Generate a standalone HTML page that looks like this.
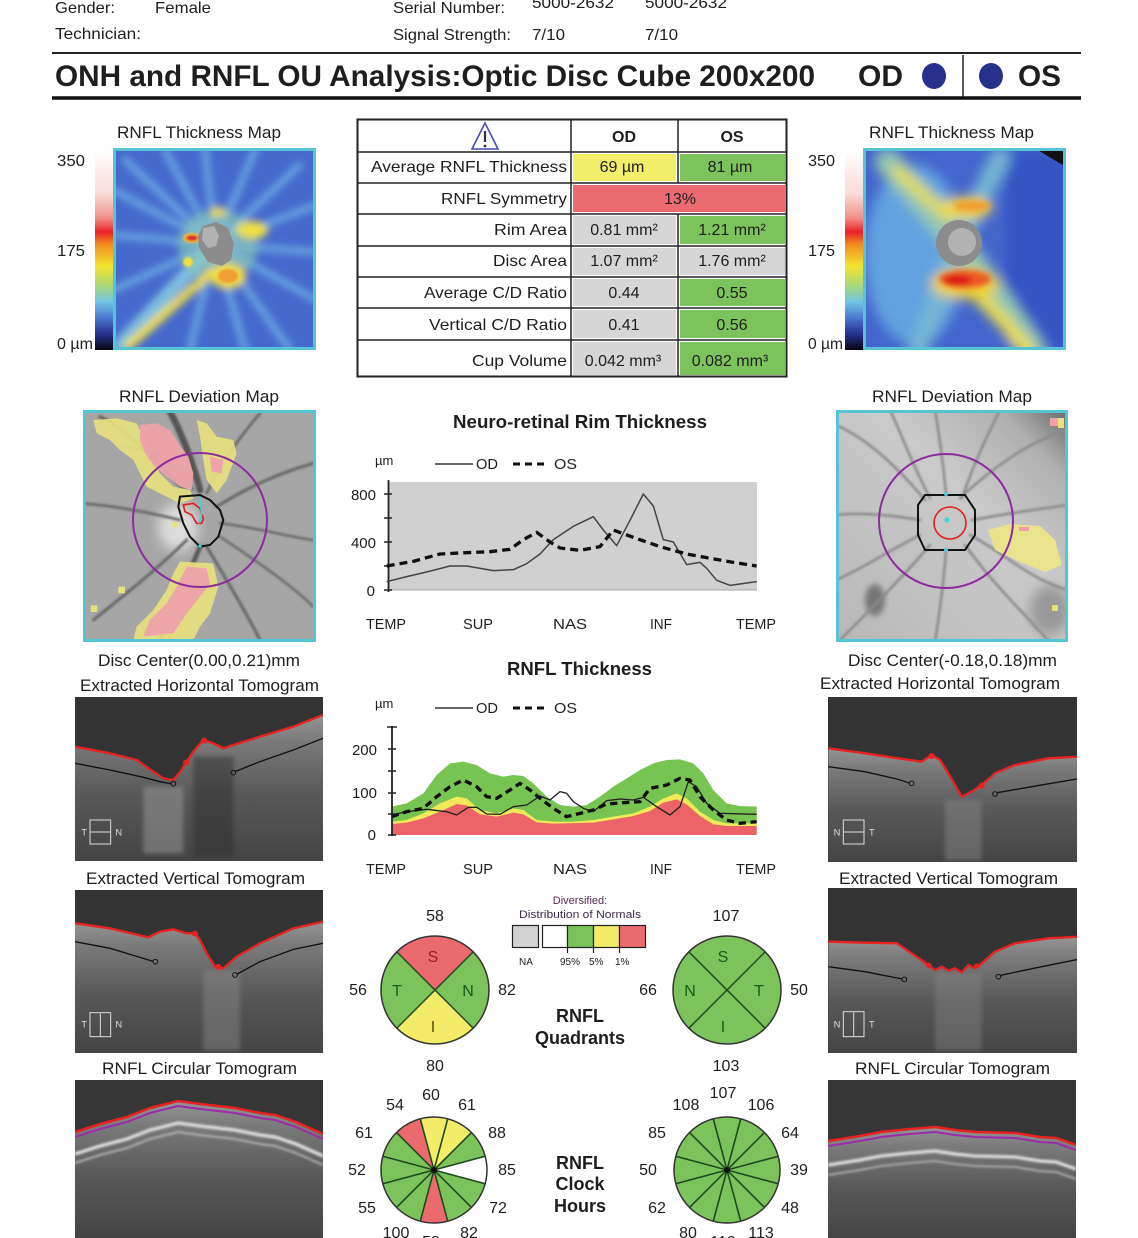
<!DOCTYPE html>
<html><head><meta charset="utf-8">
<style>
html,body{margin:0;padding:0;background:#fff;}
svg{display:block;}
text{font-family:"Liberation Sans",Arial,sans-serif;fill:#1e1e1e;}
.b{font-weight:bold;}
</style></head>
<body>
<svg width="1138" height="1238" viewBox="0 0 1138 1238" xmlns="http://www.w3.org/2000/svg">
<defs>
 <linearGradient id="cbar" x1="0" y1="0" x2="0" y2="1">
  <stop offset="0" stop-color="#ffffff"/>
  <stop offset="0.22" stop-color="#f8dcd6"/>
  <stop offset="0.34" stop-color="#f09088"/>
  <stop offset="0.41" stop-color="#e82028"/>
  <stop offset="0.47" stop-color="#f08a20"/>
  <stop offset="0.58" stop-color="#f4e430"/>
  <stop offset="0.68" stop-color="#a8d878"/>
  <stop offset="0.76" stop-color="#70c4e4"/>
  <stop offset="0.84" stop-color="#4a78d0"/>
  <stop offset="0.92" stop-color="#283090"/>
  <stop offset="1" stop-color="#050510"/>
 </linearGradient>
 <linearGradient id="tis" x1="0" y1="0" x2="0" y2="1">
  <stop offset="0" stop-color="#959595"/>
  <stop offset="0.18" stop-color="#7a7a7a"/>
  <stop offset="0.55" stop-color="#585858"/>
  <stop offset="1" stop-color="#444"/>
 </linearGradient>
 <linearGradient id="rdev" x1="0" y1="1" x2="1" y2="0">
  <stop offset="0" stop-color="#b8b8b8"/>
  <stop offset="0.6" stop-color="#cacaca"/>
  <stop offset="0.85" stop-color="#b0b0b0"/>
  <stop offset="1" stop-color="#6a6a6a"/>
 </linearGradient>
 <filter id="b6" x="-20%" y="-20%" width="140%" height="140%"><feGaussianBlur stdDeviation="6"/></filter>
 <filter id="b4" x="-20%" y="-20%" width="140%" height="140%"><feGaussianBlur stdDeviation="4"/></filter>
 <filter id="b3" x="-20%" y="-20%" width="140%" height="140%"><feGaussianBlur stdDeviation="3"/></filter>
 <filter id="b1" x="-20%" y="-20%" width="140%" height="140%"><feGaussianBlur stdDeviation="1"/></filter>
 <clipPath id="cTL"><rect x="113" y="148" width="203" height="202"/></clipPath>
 <clipPath id="cTR"><rect x="863" y="148" width="203" height="202"/></clipPath>
 <clipPath id="cDL"><rect x="83" y="410" width="233" height="232"/></clipPath>
 <clipPath id="cDR"><rect x="836" y="410" width="232" height="232"/></clipPath>
 <clipPath id="cLH"><rect x="75" y="697" width="248" height="164"/></clipPath>
 <clipPath id="cLV"><rect x="75" y="890" width="248" height="163"/></clipPath>
 <clipPath id="cLC"><rect x="75" y="1080" width="248" height="158"/></clipPath>
 <clipPath id="cRH"><rect x="828" y="697" width="249" height="165"/></clipPath>
 <clipPath id="cRV"><rect x="828" y="888" width="249" height="165"/></clipPath>
 <clipPath id="cRC"><rect x="828" y="1080" width="248" height="158"/></clipPath>
</defs>

<!-- ============ HEADER ============ -->
<g font-size="16">
 <text x="55" y="13" textLength="60" lengthAdjust="spacingAndGlyphs">Gender:</text>
 <text x="155" y="13" textLength="56" lengthAdjust="spacingAndGlyphs">Female</text>
 <text x="55" y="39" textLength="86" lengthAdjust="spacingAndGlyphs">Technician:</text>
 <text x="393" y="13" textLength="112" lengthAdjust="spacingAndGlyphs">Serial Number:</text>
 <text x="532" y="8" textLength="82" lengthAdjust="spacingAndGlyphs">5000-2632</text>
 <text x="645" y="8" textLength="82" lengthAdjust="spacingAndGlyphs">5000-2632</text>
 <text x="393" y="40" textLength="118" lengthAdjust="spacingAndGlyphs">Signal Strength:</text>
 <text x="532" y="40" textLength="33" lengthAdjust="spacingAndGlyphs">7/10</text>
 <text x="645" y="40" textLength="33" lengthAdjust="spacingAndGlyphs">7/10</text>
</g>
<line x1="52" y1="53" x2="1081" y2="53" stroke="#222" stroke-width="2"/>
<text class="b" x="55" y="86" font-size="30" textLength="760" lengthAdjust="spacingAndGlyphs" fill="#000">ONH and RNFL OU Analysis:Optic Disc Cube 200x200</text>
<text class="b" x="858" y="86" font-size="30" textLength="45" lengthAdjust="spacingAndGlyphs" fill="#000">OD</text>
<ellipse cx="934" cy="76" rx="12" ry="13" fill="#27318c"/>
<line x1="963" y1="55" x2="963" y2="97" stroke="#222" stroke-width="1.5"/>
<ellipse cx="991" cy="76" rx="12" ry="13" fill="#27318c"/>
<text class="b" x="1018" y="86" font-size="30" textLength="43" lengthAdjust="spacingAndGlyphs" fill="#000">OS</text>
<line x1="52" y1="98" x2="1081" y2="98" stroke="#111" stroke-width="3.5"/>

<!-- ============ THICKNESS MAPS ============ -->
<text x="117" y="138" font-size="17" textLength="164" lengthAdjust="spacingAndGlyphs">RNFL Thickness Map</text>
<text x="869" y="138" font-size="17" textLength="165" lengthAdjust="spacingAndGlyphs">RNFL Thickness Map</text>
<rect x="95" y="150" width="18" height="200" fill="url(#cbar)"/>
<rect x="845" y="150" width="18" height="200" fill="url(#cbar)"/>
<g font-size="16">
 <text x="57" y="166" textLength="28" lengthAdjust="spacingAndGlyphs">350</text>
 <text x="57" y="256" textLength="28" lengthAdjust="spacingAndGlyphs">175</text>
 <text x="57" y="349" textLength="36" lengthAdjust="spacingAndGlyphs">0 µm</text>
 <text x="808" y="166" textLength="27" lengthAdjust="spacingAndGlyphs">350</text>
 <text x="808" y="256" textLength="27" lengthAdjust="spacingAndGlyphs">175</text>
 <text x="808" y="349" textLength="35" lengthAdjust="spacingAndGlyphs">0 µm</text>
</g>

<!-- left thickness map -->
<g clip-path="url(#cTL)">
 <rect x="113" y="148" width="203" height="202" fill="#4669cd"/>
 <g filter="url(#b4)" stroke-linecap="round" fill="none">
  <g stroke="#6eaee2" stroke-width="6">
   <path d="M215,244 L125,160"/><path d="M215,244 L165,150"/><path d="M215,244 L205,148"/>
   <path d="M215,244 L255,150"/><path d="M215,244 L300,165"/><path d="M215,244 L316,205"/>
   <path d="M215,244 L316,252"/><path d="M215,244 L316,300"/><path d="M215,244 L290,350"/>
   <path d="M215,244 L245,350"/><path d="M215,244 L190,350"/><path d="M215,244 L113,290"/>
   <path d="M215,244 L113,235"/><path d="M215,244 L113,190"/>
  </g>
  <path d="M215,244 L120,345" stroke="#80c0e0" stroke-width="14"/>
  <ellipse cx="218" cy="246" rx="40" ry="36" fill="#8ccab8" stroke="none" opacity="0.6"/>
  <path d="M212,272 L182,298 L152,325 L128,346" stroke="#ecdc44" stroke-width="9"/>
  <ellipse cx="252" cy="230" rx="16" ry="9" fill="#f0e040" stroke="none"/>
  <ellipse cx="218" cy="212" rx="8" ry="5" fill="#f0e040" stroke="none"/>
  <ellipse cx="228" cy="276" rx="18" ry="13" fill="#f2dc3c" stroke="none"/>
 </g>
 <g filter="url(#b1)">
  <ellipse cx="228" cy="276" rx="10" ry="7" fill="#f0a030"/>
  <ellipse cx="192" cy="238" rx="9" ry="5" fill="#f0c030"/>
  <ellipse cx="192" cy="238" rx="6" ry="3" fill="#e02828"/>
  <circle cx="188" cy="262" r="5" fill="#f0e040"/>
 </g>
 <polygon points="203,226 216,222 228,228 234,244 231,260 222,266 208,262 199,248 198,236" fill="#8c8c8c"/>
 <polygon points="203,228 214,226 219,236 216,246 208,248 202,240" fill="#b2b2b2"/>
</g>
<rect x="114.5" y="149.5" width="200" height="199" fill="none" stroke="#55c5d6" stroke-width="3"/>

<!-- right thickness map -->
<g clip-path="url(#cTR)">
 <rect x="863" y="148" width="203" height="202" fill="#4466cc"/>
 <g filter="url(#b6)" stroke-linecap="round" fill="none">
  <rect x="1005" y="150" width="70" height="200" fill="#3654c4" stroke="none"/>
  <ellipse cx="915" cy="255" rx="50" ry="90" fill="#62a2e0" stroke="none"/>
  <path d="M888,162 L959,243 L1032,350" stroke="#94c8b0" stroke-width="26"/>
  <path d="M1000,158 L959,243 L918,350" stroke="#76b6d4" stroke-width="20"/>
  <path d="M898,172 L948,215" stroke="#e6de50" stroke-width="12"/>
  <path d="M968,285 L1000,318 L1028,350" stroke="#f0e040" stroke-width="13"/>
  <ellipse cx="966" cy="208" rx="26" ry="11" fill="#f0d840" stroke="none"/>
  <ellipse cx="965" cy="284" rx="34" ry="15" fill="#f0d030" stroke="none"/>
 </g>
 <g filter="url(#b3)">
  <ellipse cx="972" cy="206" rx="18" ry="6" fill="#f0a030"/>
  <ellipse cx="965" cy="279" rx="26" ry="9" fill="#ec5a22"/>
  <ellipse cx="958" cy="280" rx="14" ry="5" fill="#d81818"/>
 </g>
 <circle cx="959" cy="243" r="23" fill="#8c8c8c"/>
 <circle cx="962" cy="242" r="14" fill="#b2b2b2"/>
 <polygon points="1036,149 1066,149 1066,167" fill="#111"/>
</g>
<rect x="864.5" y="149.5" width="200" height="199" fill="none" stroke="#55c5d6" stroke-width="3"/>

<!-- ============ TABLE ============ -->
<g>
 <rect x="573" y="154" width="103" height="27" fill="#f3ee6a"/>
 <rect x="680" y="154" width="105" height="27" fill="#7dc35b"/>
 <rect x="573" y="185" width="212" height="27" fill="#ec6b70"/>
 <rect x="573" y="216" width="103" height="28" fill="#d6d6d6"/>
 <rect x="680" y="216" width="105" height="28" fill="#7dc35b"/>
 <rect x="573" y="248" width="103" height="27" fill="#d6d6d6"/>
 <rect x="680" y="248" width="105" height="27" fill="#d6d6d6"/>
 <rect x="573" y="279" width="103" height="27" fill="#d6d6d6"/>
 <rect x="680" y="279" width="105" height="27" fill="#7dc35b"/>
 <rect x="573" y="310" width="103" height="28" fill="#d6d6d6"/>
 <rect x="680" y="310" width="105" height="28" fill="#7dc35b"/>
 <rect x="573" y="342" width="103" height="33" fill="#d6d6d6"/>
 <rect x="680" y="342" width="105" height="33" fill="#7dc35b"/>
 <g stroke="#222" stroke-width="1.5">
  <rect x="357.5" y="119.5" width="429" height="257" fill="none" stroke-width="2"/>
  <line x1="571" y1="119" x2="571" y2="377"/>
  <line x1="678" y1="119" x2="678" y2="183"/>
  <line x1="678" y1="214" x2="678" y2="377"/>
  <line x1="357" y1="152" x2="787" y2="152"/>
  <line x1="357" y1="183" x2="787" y2="183"/>
  <line x1="357" y1="214" x2="787" y2="214"/>
  <line x1="357" y1="246" x2="787" y2="246"/>
  <line x1="357" y1="277" x2="787" y2="277"/>
  <line x1="357" y1="308" x2="787" y2="308"/>
  <line x1="357" y1="340" x2="787" y2="340"/>
 </g>
 <polygon points="485,123 472,149 498,149" fill="none" stroke="#4a4ab8" stroke-width="1.6"/>
 <line x1="485" y1="131" x2="485" y2="142" stroke="#333" stroke-width="2.2"/>
 <circle cx="485" cy="146" r="1.4" fill="#333"/>
 <text class="b" x="624" y="142" font-size="16" text-anchor="middle">OD</text>
 <text class="b" x="732" y="142" font-size="16" text-anchor="middle">OS</text>
 <g font-size="16" fill="#333" text-anchor="end">
  <text x="567" y="172" textLength="196" lengthAdjust="spacingAndGlyphs">Average RNFL Thickness</text>
  <text x="567" y="204" textLength="126" lengthAdjust="spacingAndGlyphs">RNFL Symmetry</text>
  <text x="567" y="235" textLength="73" lengthAdjust="spacingAndGlyphs">Rim Area</text>
  <text x="567" y="266" textLength="74" lengthAdjust="spacingAndGlyphs">Disc Area</text>
  <text x="567" y="298" textLength="143" lengthAdjust="spacingAndGlyphs">Average C/D Ratio</text>
  <text x="567" y="330" textLength="138" lengthAdjust="spacingAndGlyphs">Vertical C/D Ratio</text>
  <text x="567" y="366" textLength="95" lengthAdjust="spacingAndGlyphs">Cup Volume</text>
 </g>
 <g font-size="16" fill="#333" text-anchor="middle">
  <text x="622" y="172">69 µm</text><text x="730" y="172">81 µm</text>
  <text x="680" y="204">13%</text>
  <text x="624" y="235">0.81 mm²</text><text x="732" y="235">1.21 mm²</text>
  <text x="624" y="266">1.07 mm²</text><text x="732" y="266">1.76 mm²</text>
  <text x="624" y="298">0.44</text><text x="732" y="298">0.55</text>
  <text x="624" y="330">0.41</text><text x="732" y="330">0.56</text>
  <text x="623" y="366">0.042 mm³</text><text x="730" y="366">0.082 mm³</text>
 </g>
</g>

<!-- ============ DEVIATION MAPS ============ -->
<text x="119" y="402" font-size="17" textLength="160" lengthAdjust="spacingAndGlyphs">RNFL Deviation Map</text>
<text x="872" y="402" font-size="17" textLength="160" lengthAdjust="spacingAndGlyphs">RNFL Deviation Map</text>

<g clip-path="url(#cDL)">
 <rect x="83" y="410" width="233" height="232" fill="#a6a6a6"/>
 <ellipse cx="178" cy="527" rx="20" ry="24" fill="#dcdcdc" filter="url(#b6)"/>
 <g transform="translate(60,380) scale(0.33333)" fill="none" stroke="#666" stroke-linecap="round" filter="url(#b3)">
  <path d="M420,330 C400,250 360,150 330,95" stroke="#555" stroke-width="20"/>
  <path d="M380,340 C300,250 200,150 120,110" stroke-width="10"/>
  <path d="M470,380 C550,330 650,280 760,250" stroke-width="9"/>
  <path d="M480,430 C580,440 680,470 760,480" stroke-width="7"/>
  <path d="M420,500 C380,600 330,700 300,780" stroke="#5a5a5a" stroke-width="14"/>
  <path d="M440,500 C500,600 560,700 600,780" stroke-width="9"/>
  <path d="M360,420 C280,400 180,380 70,370" stroke-width="8"/>
  <path d="M380,480 C300,560 200,640 100,720" stroke-width="9"/>
  <path d="M440,340 C480,250 540,170 600,100" stroke-width="8"/>
  <path d="M480,470 C600,550 700,620 760,680" stroke-width="7"/>
  <path d="M400,330 C330,230 260,200 180,200" stroke-width="6"/>
 </g>
 <g transform="translate(60,380) scale(0.33333)">
  <polygon points="100,120 170,115 230,130 250,170 270,230 300,280 340,320 390,330 400,355 360,370 310,345 260,320 240,280 220,240 180,210 150,180 110,160" fill="#e6e07e" opacity="0.92"/>
  <polygon points="410,120 440,130 470,170 520,180 530,220 500,300 470,340 440,300 430,240 420,170" fill="#e6e07e" opacity="0.92"/>
  <polygon points="240,135 290,130 330,150 355,190 385,230 400,280 395,330 360,320 320,290 280,255 255,220 240,180" fill="#eea2aa" opacity="0.95"/>
  <polygon points="450,230 490,240 485,280 455,275" fill="#eea2aa"/>
  <polygon points="360,545 460,550 475,620 450,700 420,740 400,780 220,780 230,740 280,690 320,630 340,580" fill="#e6e07e" opacity="0.92"/>
  <polygon points="380,560 440,565 450,610 420,650 380,700 340,760 250,770 270,720 320,670 350,620" fill="#eea2aa" opacity="0.95"/>
  <rect x="175" y="620" width="20" height="20" fill="#e6e07e"/>
  <rect x="92" y="676" width="20" height="20" fill="#e6e07e"/>
  <rect x="336" y="426" width="16" height="16" fill="#e6e07e"/>
  <polygon points="360,350 420,345 450,360 480,390 490,420 475,470 450,495 420,500 390,470 370,430 355,380" fill="none" stroke="#111" stroke-width="6"/>
  <polygon points="370,375 400,370 420,385 430,415 425,430 410,430 395,405 375,395" fill="none" stroke="#e02020" stroke-width="5"/>
  <path d="M418,350 L425,400 L418,430" fill="none" stroke="#40d0e0" stroke-width="5"/>
  <circle cx="420" cy="498" r="5" fill="#40d0e0"/>
 </g>
 <circle cx="200" cy="520" r="67" fill="none" stroke="#8a2c9c" stroke-width="2"/>
</g>
<rect x="84.5" y="411.5" width="230" height="229" fill="none" stroke="#55c5d6" stroke-width="3"/>

<g clip-path="url(#cDR)">
 <rect x="836" y="410" width="232" height="232" fill="url(#rdev)"/>
 <ellipse cx="875" cy="600" rx="10" ry="16" fill="#777" filter="url(#b3)"/>
 <ellipse cx="1050" cy="610" rx="20" ry="25" fill="#999" filter="url(#b6)"/>
 <g fill="none" stroke="#8a8a8a" stroke-linecap="round" stroke-width="2.5" filter="url(#b1)">
  <path d="M946,495 C944,470 940,440 935,410"/>
  <path d="M925,500 C900,470 870,440 836,425"/>
  <path d="M960,498 C990,470 1030,440 1068,430"/>
  <path d="M920,520 C890,515 860,512 836,515"/>
  <path d="M972,520 C1000,515 1030,510 1068,505"/>
  <path d="M946,550 C944,580 940,610 935,642"/>
  <path d="M930,545 C900,580 870,610 840,640"/>
  <path d="M965,545 C990,580 1020,610 1050,642"/>
  <path d="M930,498 C910,460 900,430 890,410"/>
  <path d="M962,498 C975,460 990,430 1000,410"/>
  <path d="M920,535 C890,550 860,570 836,580"/>
  <path d="M970,535 C1000,550 1030,580 1068,590"/>
 </g>
 <polygon points="988,530 1010,524 1040,526 1055,540 1062,565 1045,572 1020,562 995,550" fill="#ece58a" opacity="0.95"/>
 <rect x="1019" y="527" width="10" height="4" fill="#f0a0a8"/>
 <rect x="1050" y="418" width="8" height="8" fill="#f0a0a8"/><rect x="1058" y="418" width="6" height="10" fill="#e8e07a"/>
 <rect x="1052" y="605" width="6" height="6" fill="#e8e07a"/>
 <circle cx="946" cy="521" r="67" fill="none" stroke="#8a2c9c" stroke-width="2"/>
 <path d="M925,495 L965,495 L975,510 L975,535 L965,550 L925,550 L918,535 L918,505 Z" fill="none" stroke="#111" stroke-width="2"/>
 <circle cx="950" cy="523" r="16" fill="none" stroke="#e02020" stroke-width="1.6"/>
 <circle cx="946" cy="494" r="2" fill="#40d0e0"/><circle cx="946" cy="550" r="2" fill="#40d0e0"/>
 <circle cx="947" cy="520" r="2.5" fill="#40d0e0"/>
</g>
<rect x="837.5" y="411.5" width="229" height="229" fill="none" stroke="#55c5d6" stroke-width="3"/>

<g font-size="17">
 <text x="98" y="666" textLength="202" lengthAdjust="spacingAndGlyphs">Disc Center(0.00,0.21)mm</text>
 <text x="80" y="691" textLength="239" lengthAdjust="spacingAndGlyphs">Extracted Horizontal Tomogram</text>
 <text x="848" y="666" textLength="209" lengthAdjust="spacingAndGlyphs">Disc Center(-0.18,0.18)mm</text>
 <text x="820" y="689" textLength="240" lengthAdjust="spacingAndGlyphs">Extracted Horizontal Tomogram</text>
 <text x="86" y="884" textLength="219" lengthAdjust="spacingAndGlyphs">Extracted Vertical Tomogram</text>
 <text x="839" y="884" textLength="219" lengthAdjust="spacingAndGlyphs">Extracted Vertical Tomogram</text>
 <text x="102" y="1074" textLength="195" lengthAdjust="spacingAndGlyphs">RNFL Circular Tomogram</text>
 <text x="855" y="1074" textLength="195" lengthAdjust="spacingAndGlyphs">RNFL Circular Tomogram</text>
</g>

<!-- ============ TOMOGRAMS ============ -->
<g clip-path="url(#cLH)">
 <rect x="75" y="697" width="248" height="164" fill="#333"/>
 <g transform="translate(60,690) scale(0.33333)">
  <polygon points="45,170 150,190 230,210 280,245 310,265 340,270 365,240 380,215 400,185 430,150 460,160 490,175 520,165 600,140 700,110 789,75 789,513 45,513" fill="url(#tis)"/>
  <rect x="250" y="290" width="120" height="200" fill="#9a9a9a" opacity="0.5" filter="url(#b6)"/>
  <rect x="400" y="200" width="120" height="300" fill="#2e2e2e" opacity="0.5" filter="url(#b6)"/>
  <polyline points="45,220 150,240 250,262 300,275 333,281" fill="none" stroke="#111" stroke-width="4"/>
  <circle cx="340" cy="281" r="7" fill="none" stroke="#111" stroke-width="3"/>
  <circle cx="520" cy="248" r="7" fill="none" stroke="#111" stroke-width="3"/>
  <polyline points="527,244 600,215 700,180 789,145" fill="none" stroke="#111" stroke-width="4"/>
  <polyline points="45,170 150,190 230,210 280,245 310,265 340,270 365,240 380,215 400,185 430,150 460,160 490,175 520,165 600,140 700,110 789,75" fill="none" stroke="#e82222" stroke-width="7" stroke-linejoin="round"/>
  <circle cx="378" cy="218" r="9" fill="#e82222"/><circle cx="432" cy="152" r="9" fill="#e82222"/>
  <rect x="90" y="390" width="62" height="72" fill="none" stroke="#ddd" stroke-width="3"/>
  <line x1="90" y1="426" x2="150" y2="426" stroke="#ddd" stroke-width="3"/>
  <text x="64" y="436" font-size="28" style="fill:#ddd">T</text><text x="166" y="436" font-size="28" style="fill:#ddd">N</text>
 </g>
</g>
<g clip-path="url(#cLV)">
 <rect x="75" y="890" width="248" height="163" fill="#333"/>
 <g transform="translate(60,690) scale(0.33333)">
  <polygon points="45,700 150,715 265,742 300,725 340,718 380,730 405,730 420,750 440,790 465,830 490,835 530,800 600,760 700,715 789,695 789,1095 45,1095" fill="url(#tis)"/>
  <rect x="430" y="840" width="110" height="240" fill="#8a8a8a" opacity="0.45" filter="url(#b6)"/>
  <polyline points="45,755 150,775 250,805 279,814" fill="none" stroke="#111" stroke-width="4"/>
  <circle cx="286" cy="815" r="7" fill="none" stroke="#111" stroke-width="3"/>
  <circle cx="525" cy="855" r="7" fill="none" stroke="#111" stroke-width="3"/>
  <polyline points="532,852 600,815 700,778 789,760" fill="none" stroke="#111" stroke-width="4"/>
  <polyline points="45,700 150,715 265,742 300,725 340,718 380,730 405,730 420,750 440,790 465,830 490,835 530,800 600,760 700,715 789,695" fill="none" stroke="#e82222" stroke-width="7" stroke-linejoin="round"/>
  <circle cx="405" cy="731" r="9" fill="#e82222"/><circle cx="475" cy="831" r="9" fill="#e82222"/>
  <rect x="90" y="968" width="62" height="72" fill="none" stroke="#ddd" stroke-width="3"/>
  <line x1="121" y1="970" x2="121" y2="1040" stroke="#ddd" stroke-width="3"/>
  <text x="64" y="1012" font-size="28" style="fill:#ddd">T</text><text x="166" y="1012" font-size="28" style="fill:#ddd">N</text>
 </g>
</g>
<g clip-path="url(#cLC)">
 <rect x="75" y="1080" width="248" height="158" fill="#363636"/>
 <polygon points="75,1132 100,1124 127,1117 150,1108 178,1101 200,1104 235,1108 260,1113 275,1115 296,1122 323,1134 323,1238 75,1238" fill="url(#tis)"/>
 <polyline points="75,1154 100,1146 127,1139 150,1130 178,1123 200,1126 235,1130 260,1135 275,1137 296,1144 323,1156" fill="none" stroke="#dadada" stroke-width="3.5" filter="url(#b1)"/>
 <polyline points="75,1163 100,1155 127,1148 150,1139 178,1132 200,1135 235,1139 260,1144 275,1146 296,1153 323,1165" fill="none" stroke="#b0b0b0" stroke-width="2" filter="url(#b1)"/>
 <polyline points="75,1137 100,1129 127,1122 150,1113 178,1106 200,1109 235,1113 260,1118 275,1120 296,1127 323,1139" fill="none" stroke="#9a2ca8" stroke-width="2"/>
 <polyline points="75,1132 100,1124 127,1117 150,1108 178,1101 200,1104 235,1108 260,1113 275,1115 296,1122 323,1134" fill="none" stroke="#e82222" stroke-width="2.5"/>
</g>

<g clip-path="url(#cRH)">
 <rect x="828" y="697" width="249" height="165" fill="#333"/>
 <g transform="translate(815,640) scale(0.33333)">
  <polygon points="40,325 150,340 250,355 320,365 350,345 375,360 400,400 440,470 470,455 500,435 540,400 600,375 700,355 790,350 790,670 40,670" fill="url(#tis)"/>
  <rect x="390" y="480" width="110" height="180" fill="#8a8a8a" opacity="0.45" filter="url(#b6)"/>
  <polyline points="40,380 150,395 250,418 283,429" fill="none" stroke="#111" stroke-width="4"/>
  <circle cx="290" cy="430" r="7" fill="none" stroke="#111" stroke-width="3"/>
  <circle cx="540" cy="462" r="7" fill="none" stroke="#111" stroke-width="3"/>
  <polyline points="547,458 650,440 790,416" fill="none" stroke="#111" stroke-width="4"/>
  <polyline points="40,325 150,340 250,355 320,365 350,345 375,360 400,400 440,470 470,455 500,435 540,400 600,375 700,355 790,350" fill="none" stroke="#e82222" stroke-width="7" stroke-linejoin="round"/>
  <circle cx="350" cy="348" r="9" fill="#e82222"/><circle cx="500" cy="437" r="9" fill="#e82222"/>
  <rect x="85" y="540" width="62" height="72" fill="none" stroke="#ddd" stroke-width="3"/>
  <line x1="85" y1="576" x2="145" y2="576" stroke="#ddd" stroke-width="3"/>
  <text x="56" y="586" font-size="28" style="fill:#ddd">N</text><text x="162" y="586" font-size="28" style="fill:#ddd">T</text>
 </g>
</g>
<g clip-path="url(#cRV)">
 <rect x="828" y="888" width="249" height="165" fill="#333"/>
 <g transform="translate(815,640) scale(0.33333)">
  <polygon points="40,905 150,908 245,910 290,940 340,975 360,990 380,980 400,992 420,985 440,998 460,975 480,985 500,970 540,935 600,910 700,895 790,890 790,1245 40,1245" fill="url(#tis)"/>
  <rect x="360" y="1000" width="140" height="230" fill="#888" opacity="0.4" filter="url(#b6)"/>
  <polyline points="40,980 150,995 262,1017" fill="none" stroke="#111" stroke-width="4"/>
  <circle cx="268" cy="1018" r="7" fill="none" stroke="#111" stroke-width="3"/>
  <circle cx="550" cy="1010" r="7" fill="none" stroke="#111" stroke-width="3"/>
  <polyline points="557,1006 680,980 790,958" fill="none" stroke="#111" stroke-width="4"/>
  <polyline points="40,905 150,908 245,910 290,940 340,975 360,990 380,980 400,992 420,985 440,998 460,975 480,985 500,970 540,935 600,910 700,895 790,890" fill="none" stroke="#e82222" stroke-width="7" stroke-linejoin="round"/>
  <circle cx="342" cy="976" r="8" fill="#e82222"/><circle cx="485" cy="978" r="8" fill="#e82222"/>
  <rect x="85" y="1115" width="62" height="75" fill="none" stroke="#ddd" stroke-width="3"/>
  <line x1="116" y1="1117" x2="116" y2="1190" stroke="#ddd" stroke-width="3"/>
  <text x="56" y="1162" font-size="28" style="fill:#ddd">N</text><text x="162" y="1162" font-size="28" style="fill:#ddd">T</text>
 </g>
</g>
<g clip-path="url(#cRC)">
 <rect x="828" y="1080" width="248" height="158" fill="#363636"/>
 <polygon points="828,1141 860,1136 881,1132 910,1129 935,1127 955,1130 975,1132 1015,1133 1040,1137 1056,1138 1076,1145 1076,1238 828,1238" fill="url(#tis)"/>
 <polyline points="828,1165 860,1160 881,1156 910,1153 935,1151 955,1154 975,1156 1015,1157 1040,1161 1056,1162 1076,1169" fill="none" stroke="#d8d8d8" stroke-width="3.5" filter="url(#b1)"/>
 <polyline points="828,1175 860,1170 881,1166 910,1163 935,1161 955,1164 975,1166 1015,1167 1040,1171 1056,1172 1076,1179" fill="none" stroke="#aaa" stroke-width="2" filter="url(#b1)"/>
 <polyline points="828,1146 860,1141 881,1137 910,1134 935,1132 955,1135 975,1137 1015,1138 1040,1142 1056,1143 1076,1150" fill="none" stroke="#9a2ca8" stroke-width="2"/>
 <polyline points="828,1141 860,1136 881,1132 910,1129 935,1127 955,1130 975,1132 1015,1133 1040,1137 1056,1138 1076,1145" fill="none" stroke="#e82222" stroke-width="2.5"/>
</g>

<!-- ============ NEURO-RETINAL RIM CHART ============ -->
<text class="b" x="453" y="428" font-size="18" textLength="254" lengthAdjust="spacingAndGlyphs">Neuro-retinal Rim Thickness</text>
<g font-size="15" fill="#333">
 <text x="375" y="465" font-size="13">µm</text>
 <line x1="435" y1="464" x2="473" y2="464" stroke="#333" stroke-width="1.5"/>
 <text x="476" y="469" textLength="22" lengthAdjust="spacingAndGlyphs">OD</text>
 <line x1="513" y1="464" x2="545" y2="464" stroke="#111" stroke-width="3" stroke-dasharray="7,5"/>
 <text x="554" y="469" textLength="23" lengthAdjust="spacingAndGlyphs">OS</text>
</g>
<rect x="388" y="482" width="369" height="108" fill="#d0d0d0"/>
<line x1="388" y1="590" x2="757" y2="590" stroke="#aaa" stroke-width="1"/>
<line x1="388.5" y1="480" x2="388.5" y2="592" stroke="#222" stroke-width="1.8"/>
<g stroke="#222" stroke-width="1.5">
 <line x1="384" y1="494" x2="392" y2="494"/><line x1="384" y1="518" x2="392" y2="518"/>
 <line x1="384" y1="542" x2="392" y2="542"/><line x1="384" y1="566" x2="392" y2="566"/>
 <line x1="384" y1="590" x2="392" y2="590"/>
</g>
<g font-size="15" text-anchor="end">
 <text x="376" y="500">800</text><text x="376" y="548">400</text><text x="375" y="596">0</text>
</g>
<g transform="translate(340,400) scale(0.33333)" fill="none" stroke-linejoin="round">
 <polyline points="140,545 200,530 260,516 330,498 380,498 460,512 520,509 560,491 600,462 640,419 700,379 760,350 790,390 830,437 870,361 910,282 940,318 970,419 1000,426 1040,494 1080,487 1100,505 1130,541 1170,556 1250,545" stroke="#444" stroke-width="4.5"/>
 <polyline points="140,498 220,484 300,462 380,458 450,455 510,448 550,419 590,397 630,426 660,444 720,451 780,440 820,390 880,412 960,440 1040,462 1100,473 1180,487 1250,498" stroke="#111" stroke-width="10" stroke-dasharray="24,15"/>
</g>
<g font-size="15" fill="#222">
 <text x="366" y="629" textLength="40" lengthAdjust="spacingAndGlyphs">TEMP</text>
 <text x="463" y="629" textLength="30" lengthAdjust="spacingAndGlyphs">SUP</text>
 <text x="553" y="629" textLength="34" lengthAdjust="spacingAndGlyphs">NAS</text>
 <text x="650" y="629" textLength="22" lengthAdjust="spacingAndGlyphs">INF</text>
 <text x="736" y="629" textLength="40" lengthAdjust="spacingAndGlyphs">TEMP</text>
</g>

<!-- ============ RNFL THICKNESS CHART ============ -->
<text class="b" x="507" y="675" font-size="18" textLength="145" lengthAdjust="spacingAndGlyphs">RNFL Thickness</text>
<g font-size="15" fill="#333">
 <text x="375" y="708" font-size="13">µm</text>
 <line x1="435" y1="708" x2="473" y2="708" stroke="#333" stroke-width="1.5"/>
 <text x="476" y="713" textLength="22" lengthAdjust="spacingAndGlyphs">OD</text>
 <line x1="513" y1="708" x2="545" y2="708" stroke="#111" stroke-width="3" stroke-dasharray="7,5"/>
 <text x="554" y="713" textLength="23" lengthAdjust="spacingAndGlyphs">OS</text>
</g>
<g transform="translate(340,650) scale(0.33333)" stroke-linejoin="round">
 <polygon points="155,470 200,460 250,430 290,375 330,340 370,335 410,345 450,370 490,380 520,375 550,378 580,400 620,440 660,465 700,470 740,465 780,440 820,410 860,385 900,360 940,340 980,330 1020,328 1060,340 1090,370 1120,420 1160,460 1200,468 1250,470 1250,555 155,555" fill="#78c452"/>
 <polygon points="155,515 200,510 250,490 300,460 350,440 380,445 420,480 470,490 520,475 550,480 590,510 640,515 700,515 760,510 820,500 880,490 930,470 970,445 1010,430 1040,445 1080,485 1120,510 1160,520 1250,520 1250,555 155,555" fill="#f0ea58"/>
 <polygon points="155,522 200,518 250,505 300,485 350,462 380,466 420,493 470,500 520,488 550,493 590,517 640,521 760,518 820,508 880,498 930,483 970,458 1010,448 1040,463 1080,498 1120,523 1160,528 1250,528 1250,555 155,555" fill="#ec6468"/>
 <polyline points="155,495 200,485 260,478 320,485 350,495 385,472 410,472 440,492 480,493 520,470 560,465 600,438 630,450 660,425 680,430 700,455 730,475 760,485 800,452 840,447 880,450 910,442 950,470 990,495 1020,470 1045,395 1070,410 1100,460 1140,490 1250,493" fill="none" stroke="#222" stroke-width="4"/>
 <polyline points="155,500 200,485 250,475 290,440 330,410 370,390 410,410 440,440 470,445 510,420 540,400 570,420 600,445 640,475 680,500 720,490 760,480 800,462 850,458 900,455 930,415 980,405 1020,385 1050,390 1080,440 1120,480 1160,510 1200,520 1250,515" fill="none" stroke="#111" stroke-width="10" stroke-dasharray="22,14"/>
</g>
<line x1="392" y1="726" x2="392" y2="836" stroke="#222" stroke-width="1.8"/>
<g stroke="#222" stroke-width="1.5">
 <line x1="387" y1="727" x2="397" y2="727"/><line x1="388" y1="749" x2="396" y2="749"/>
 <line x1="388" y1="771" x2="396" y2="771"/><line x1="388" y1="793" x2="396" y2="793"/>
 <line x1="388" y1="814" x2="396" y2="814"/><line x1="388" y1="835" x2="396" y2="835"/>
</g>
<g font-size="15" text-anchor="end">
 <text x="377" y="755">200</text><text x="377" y="798">100</text><text x="376" y="840">0</text>
</g>
<g font-size="15" fill="#222">
 <text x="366" y="874" textLength="40" lengthAdjust="spacingAndGlyphs">TEMP</text>
 <text x="463" y="874" textLength="30" lengthAdjust="spacingAndGlyphs">SUP</text>
 <text x="553" y="874" textLength="34" lengthAdjust="spacingAndGlyphs">NAS</text>
 <text x="650" y="874" textLength="22" lengthAdjust="spacingAndGlyphs">INF</text>
 <text x="736" y="874" textLength="40" lengthAdjust="spacingAndGlyphs">TEMP</text>
</g>

<!-- ============ QUADRANTS ============ -->
<g>
 <path d="M435,990 L396.8,951.8 A54,54 0 0,1 473.2,951.8 Z" fill="#ea6a6e"/>
 <path d="M435,990 L473.2,951.8 A54,54 0 0,1 473.2,1028.2 Z" fill="#7cc35b"/>
 <path d="M435,990 L473.2,1028.2 A54,54 0 0,1 396.8,1028.2 Z" fill="#f2ec68"/>
 <path d="M435,990 L396.8,1028.2 A54,54 0 0,1 396.8,951.8 Z" fill="#7cc35b"/>
 <line x1="396.8" y1="951.8" x2="473.2" y2="1028.2" stroke="#2a4a22" stroke-width="1.5"/>
 <line x1="473.2" y1="951.8" x2="396.8" y2="1028.2" stroke="#2a4a22" stroke-width="1.5"/>
 <circle cx="435" cy="990" r="54" fill="none" stroke="#333" stroke-width="1.5"/>
 <text x="433" y="962" font-size="16" text-anchor="middle" style="fill:#9a1c2a">S</text>
 <text x="397" y="996" font-size="16" text-anchor="middle" style="fill:#1a5a1a">T</text>
 <text x="468" y="996" font-size="16" text-anchor="middle" style="fill:#1a5a1a">N</text>
 <text x="433" y="1032" font-size="16" text-anchor="middle" style="fill:#55500a">I</text>

 <circle cx="727" cy="990" r="54" fill="#7cc35b" stroke="#333" stroke-width="1.5"/>
 <line x1="688.8" y1="951.8" x2="765.2" y2="1028.2" stroke="#1e4a1e" stroke-width="1.5"/>
 <line x1="765.2" y1="951.8" x2="688.8" y2="1028.2" stroke="#1e4a1e" stroke-width="1.5"/>
 <text x="723" y="962" font-size="16" text-anchor="middle" style="fill:#1a5a1a">S</text>
 <text x="690" y="996" font-size="16" text-anchor="middle" style="fill:#1a5a1a">N</text>
 <text x="759" y="996" font-size="16" text-anchor="middle" style="fill:#1a5a1a">T</text>
 <text x="723" y="1032" font-size="16" text-anchor="middle" style="fill:#1a5a1a">I</text>
</g>
<g font-size="16" text-anchor="middle" fill="#222">
 <text x="435" y="921">58</text><text x="358" y="995">56</text><text x="507" y="995">82</text><text x="435" y="1071">80</text>
 <text x="726" y="921">107</text><text x="648" y="995">66</text><text x="799" y="995">50</text><text x="726" y="1071">103</text>
</g>
<text x="580" y="904" font-size="11" text-anchor="middle" style="fill:#5a2a5a">Diversified:</text>
<text x="580" y="918" font-size="11" text-anchor="middle" textLength="122" lengthAdjust="spacingAndGlyphs" style="fill:#3a2a4a">Distribution of Normals</text>
<g stroke="#222" stroke-width="1.2">
 <rect x="512.5" y="925.5" width="26" height="22" fill="#d2d2d2"/>
 <rect x="542.5" y="925.5" width="25" height="22" fill="#fff"/>
 <rect x="567.5" y="925.5" width="26" height="22" fill="#7cc35b"/>
 <rect x="593.5" y="925.5" width="26" height="22" fill="#f2ec68"/>
 <rect x="619.5" y="925.5" width="26" height="22" fill="#ea6a6e"/>
 <line x1="567.5" y1="947" x2="567.5" y2="953"/><line x1="593.5" y1="947" x2="593.5" y2="953"/><line x1="619.5" y1="947" x2="619.5" y2="953"/>
</g>
<g font-size="10" style="fill:#4a2a5a">
 <text x="519" y="965">NA</text><text x="560" y="965">95%</text><text x="589" y="965">5%</text><text x="615" y="965">1%</text>
</g>
<text class="b" x="580" y="1022" font-size="18" text-anchor="middle">RNFL</text>
<text class="b" x="580" y="1044" font-size="18" text-anchor="middle">Quadrants</text>

<!-- ============ CLOCK HOURS ============ -->
<g>
 <circle cx="434" cy="1170" r="53" fill="#7cc35b"/>
 <path d="M434,1170 L420.28,1118.81 A53,53 0 0,1 447.72,1118.81 Z" fill="#f2ec68"/>
 <path d="M434,1170 L447.72,1118.81 A53,53 0 0,1 471.48,1132.52 Z" fill="#f2ec68"/>
 <path d="M434,1170 L485.19,1156.28 A53,53 0 0,1 485.19,1183.72 Z" fill="#ffffff"/>
 <path d="M434,1170 L447.72,1221.19 A53,53 0 0,1 420.28,1221.19 Z" fill="#ea6a6e"/>
 <path d="M434,1170 L396.52,1132.52 A53,53 0 0,1 420.28,1118.81 Z" fill="#ea6a6e"/>
 <g stroke="#1e4a1e" stroke-width="1.6">
  <line x1="420.28" y1="1118.81" x2="447.72" y2="1221.19"/>
  <line x1="447.72" y1="1118.81" x2="420.28" y2="1221.19"/>
  <line x1="471.48" y1="1132.52" x2="396.52" y2="1207.48"/>
  <line x1="485.19" y1="1156.28" x2="382.81" y2="1183.72"/>
  <line x1="485.19" y1="1183.72" x2="382.81" y2="1156.28"/>
  <line x1="471.48" y1="1207.48" x2="396.52" y2="1132.52"/>
 </g>
 <circle cx="434" cy="1170" r="53" fill="none" stroke="#333" stroke-width="1.5"/>
 <circle cx="434" cy="1170" r="3" fill="#111"/>

 <circle cx="727" cy="1170" r="53" fill="#7cc35b"/>
 <g stroke="#1e4a1e" stroke-width="1.6">
  <line x1="713.28" y1="1118.81" x2="740.72" y2="1221.19"/>
  <line x1="740.72" y1="1118.81" x2="713.28" y2="1221.19"/>
  <line x1="764.48" y1="1132.52" x2="689.52" y2="1207.48"/>
  <line x1="778.19" y1="1156.28" x2="675.81" y2="1183.72"/>
  <line x1="778.19" y1="1183.72" x2="675.81" y2="1156.28"/>
  <line x1="764.48" y1="1207.48" x2="689.52" y2="1132.52"/>
 </g>
 <circle cx="727" cy="1170" r="53" fill="none" stroke="#333" stroke-width="1.5"/>
 <circle cx="727" cy="1170" r="3" fill="#111"/>
</g>
<g font-size="16" text-anchor="middle" fill="#222">
 <text x="431" y="1100">60</text><text x="395" y="1110">54</text><text x="467" y="1110">61</text>
 <text x="364" y="1138">61</text><text x="497" y="1138">88</text>
 <text x="357" y="1175">52</text><text x="507" y="1175">85</text>
 <text x="367" y="1213">55</text><text x="498" y="1213">72</text>
 <text x="396" y="1238">100</text><text x="469" y="1238">82</text><text x="431" y="1247">58</text>
 <text x="723" y="1098">107</text><text x="686" y="1110">108</text><text x="761" y="1110">106</text>
 <text x="657" y="1138">85</text><text x="790" y="1138">64</text>
 <text x="648" y="1175">50</text><text x="799" y="1175">39</text>
 <text x="657" y="1213">62</text><text x="790" y="1213">48</text>
 <text x="688" y="1238">80</text><text x="761" y="1238">113</text><text x="723" y="1247">110</text>
</g>
<text class="b" x="580" y="1169" font-size="18" text-anchor="middle">RNFL</text>
<text class="b" x="580" y="1190" font-size="18" text-anchor="middle">Clock</text>
<text class="b" x="580" y="1212" font-size="18" text-anchor="middle">Hours</text>
</svg>
</body></html>
